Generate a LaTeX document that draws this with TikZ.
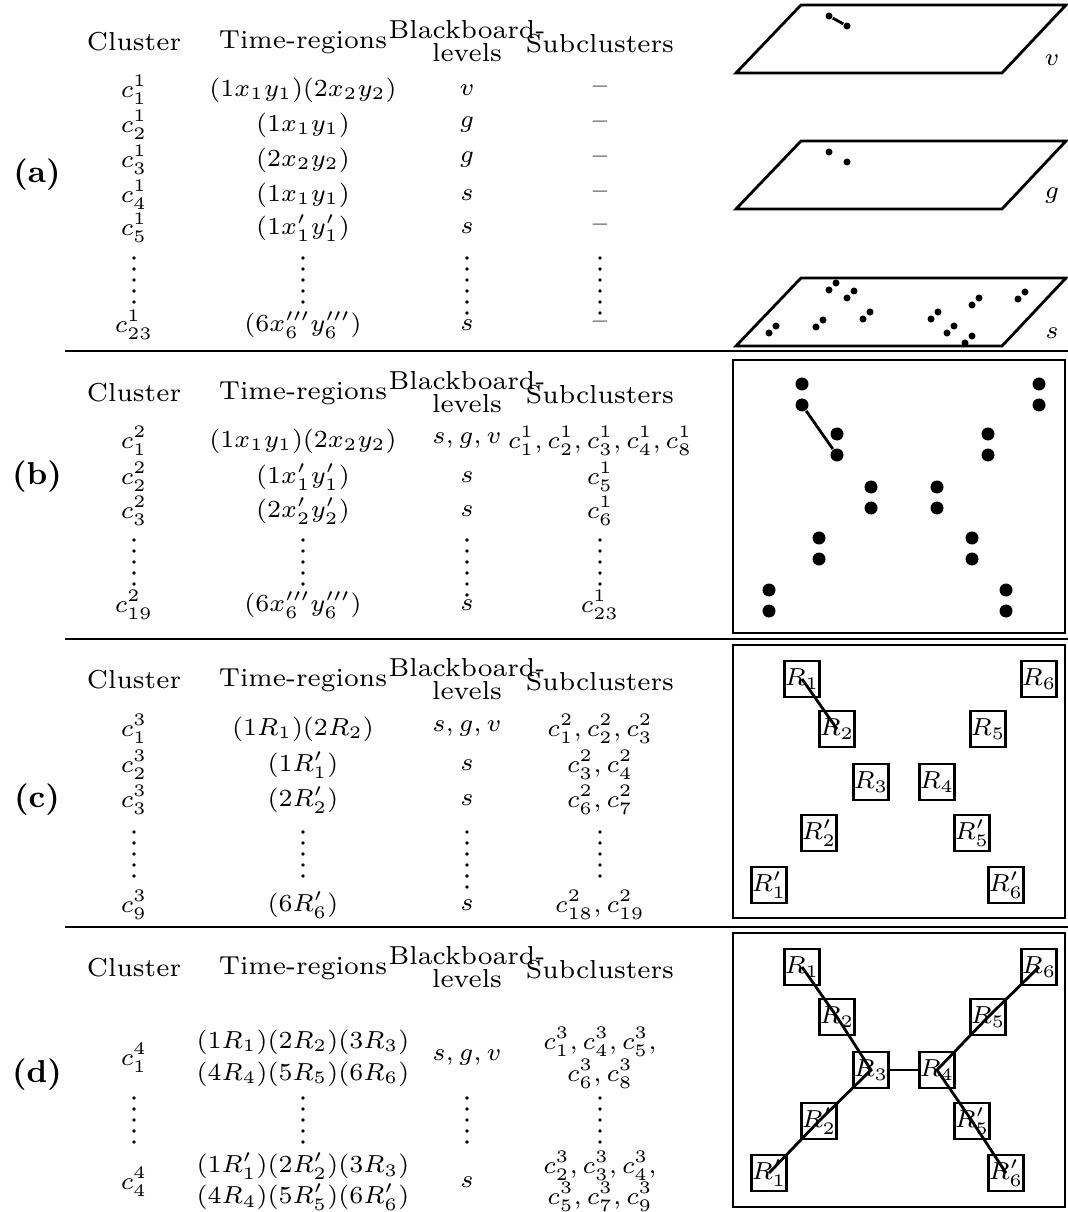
\documentclass[tikz,border=0pt]{standalone}
\begin{document}
\begin{tikzpicture}[x=0.1mm,y=-0.1mm,font=\fontsize{7.4}{8.5}\selectfont,
  rbox/.style={draw,thick,inner sep=0pt,minimum width=0.35cm,minimum height=0.36cm},
  blob/.style={circle,fill,inner sep=0pt,minimum size=3.7pt},
  sdot/.style={circle,fill,inner sep=0pt,minimum size=2pt},
  part/.style={font=\fontsize{9}{11}\selectfont\bfseries}]
\useasboundingbox (0,0) rectangle (1068,1212);
% column heads
\foreach \y in {42,393,680,968}{
  \node (hc\y) at (134,\y) {Cluster};
  \node (ht\y) at (303,\y) {Time-regions};
  \node (hb\y) at (467,\y-12) {Blackboard-};
  \node (hl\y) at (467,\y+11) {levels};
  \node (hs\y) at (600,\y+2) {Subclusters};
}
\node[part] (pa) at (37,175) {(a)};
\node[part] (pb) at (37,477) {(b)};
\node[part] (pc) at (37,800) {(c)};
\node[part] (pd) at (37,1075) {(d)};
\draw[thick] (65,351) -- (1068,351);
\draw[thick] (65,639) -- (1068,639);
\draw[thick] (65,927) -- (1068,927);
% (a)
\foreach \y/\c/\t/\b in {90/1/{(1x_1y_1)(2x_2y_2)}/v, 125/2/{(1x_1y_1)}/g, 160/3/{(2x_2y_2)}/g,
    195/4/{(1x_1y_1)}/s, 228/5/{(1x'_1y'_1)}/s, 325/23/{(6x'''_6y'''_6)}/s}{
  \node (ac\c) at (134,\y) {$c^1_{\c}$};
  \node (at\c) at (303,\y) {$\t$};
  \node (ab\c) at (467,\y) {$\b$};
  \node (as\c) at (600,\y) {--};
}
% (b)
\foreach \y/\c/\t/\b/\s in {441/1/{(1x_1y_1)(2x_2y_2)}/{s,g,v}/{c^1_1,c^1_2,c^1_3,c^1_4,c^1_8},
    477/2/{(1x'_1y'_1)}/s/{c^1_5}, 511/3/{(2x'_2y'_2)}/s/{c^1_6}, 605/19/{(6x'''_6y'''_6)}/s/{c^1_{23}}}{
  \node (bc\c) at (134,\y) {$c^2_{\c}$};
  \node (bt\c) at (303,\y) {$\t$};
  \node (bb\c) at (467,\y) {$\b$};
  \node (bs\c) at (600,\y) {$\s$};
}
% (c)
\foreach \y/\c/\t/\b/\s in {729/1/{(1R_1)(2R_2)}/{s,g,v}/{c^2_1,c^2_2,c^2_3},
    765/2/{(1R'_1)}/s/{c^2_3,c^2_4}, 800/3/{(2R'_2)}/s/{c^2_6,c^2_7}, 905/9/{(6R'_6)}/s/{c^2_{18},c^2_{19}}}{
  \node (cc\c) at (134,\y) {$c^3_{\c}$};
  \node (ct\c) at (303,\y) {$\t$};
  \node (cb\c) at (467,\y) {$\b$};
  \node (cs\c) at (600,\y) {$\s$};
}
% (d)
\node (dc1) at (134,1058) {$c^4_1$};
\node (dt1) at (303,1042) {$(1R_1)(2R_2)(3R_3)$};
\node (dt2) at (303,1074) {$(4R_4)(5R_5)(6R_6)$};
\node (db1) at (467,1058) {$s,g,v$};
\node (ds1) at (600,1042) {$c^3_1,c^3_4,c^3_5,$};
\node (ds2) at (600,1074) {$c^3_6,c^3_8$};
\node (dc4) at (134,1182) {$c^4_4$};
\node (dt3) at (303,1166) {$(1R'_1)(2R'_2)(3R_3)$};
\node (dt4) at (303,1197) {$(4R_4)(5R'_5)(6R'_6)$};
\node (db4) at (467,1182) {$s$};
\node (ds3) at (600,1166) {$c^3_2,c^3_3,c^3_4,$};
\node (ds4) at (600,1197) {$c^3_5,c^3_7,c^3_9$};
% vertical dots
\foreach \x/\y/\n in {134/258/5,303/258/5,467/258/6,600/258/6,134/540/5,303/540/5,467/540/6,600/540/5,
    134/832/5,303/832/5,467/832/6,600/832/5,134/1098/5,303/1098/5,467/1098/5,600/1098/5}
  \foreach \k in {1,...,\n} \fill (\x,\y+11*\k-11) circle (0.55pt);
% blackboard planes
\foreach \y/\l in {73/v,209/g,346/s}{
  \draw[thick] (736,\y) -- (1002,\y) -- (1066,\y-68) -- (801,\y-68) -- cycle;
  \node (pl\l) at (1052,\y-13) {$\l$};
}
\node[sdot] (v1) at (829,16) {}; \node[sdot] (v2) at (847,26) {};
\draw[thick] (v1) -- (v2);
\node[sdot] (g1) at (829,152) {}; \node[sdot] (g2) at (847,162) {};
\foreach \x/\y [count=\i] in {769/333,816/327,829/290,847/298,863/319,931/319,947/333,965/343,972/305,1018/299}{
  \node[sdot] (sl\i) at (\x,\y) {};
  \node[sdot] (su\i) at (\x+7,\y-7) {};
}
% boxes
\draw[thick] (733,360) rectangle (1065,633);
\draw[thick] (733,645) rectangle (1065,918);
\draw[thick] (733,933) rectangle (1065,1207);
\foreach \n/\x/\y in {1/802/0,2/837/50,3/871/103,4/937/103,5/988/50,6/1039/0,7/769/206,8/819/154,9/972/154,10/1006/206}{
  \node[blob] (bu\n) at (\x,384+\y) {};
  \node[blob] (bl\n) at (\x,405+\y) {};
}
\draw[thick] (bl1) -- (bl2);
\foreach \n/\x/\y/\t in {1/802/0/R_1,2/837/50/R_2,3/871/103/R_3,4/937/103/R_4,5/988/50/R_5,6/1039/0/R_6,
    1p/769/206/R'_1,2p/819/154/R'_2,5p/972/154/R'_5,6p/1006/206/R'_6}{
  \node[rbox] (c\n) at (\x,679+\y) {$\t$};
  \node[rbox] (d\n) at (\x,967+\y) {$\t$};
}
\draw[thick] (c1.center) -- (c2.center);
\draw[thick] (d1.center) -- (d2.center) -- (d3.center) -- (d2p.center) -- (d1p.center);
\draw[thick] (d6.center) -- (d5.center) -- (d4.center) -- (d5p.center) -- (d6p.center);
\draw[thick] (d3) -- (d4);
\end{tikzpicture}
\end{document}
